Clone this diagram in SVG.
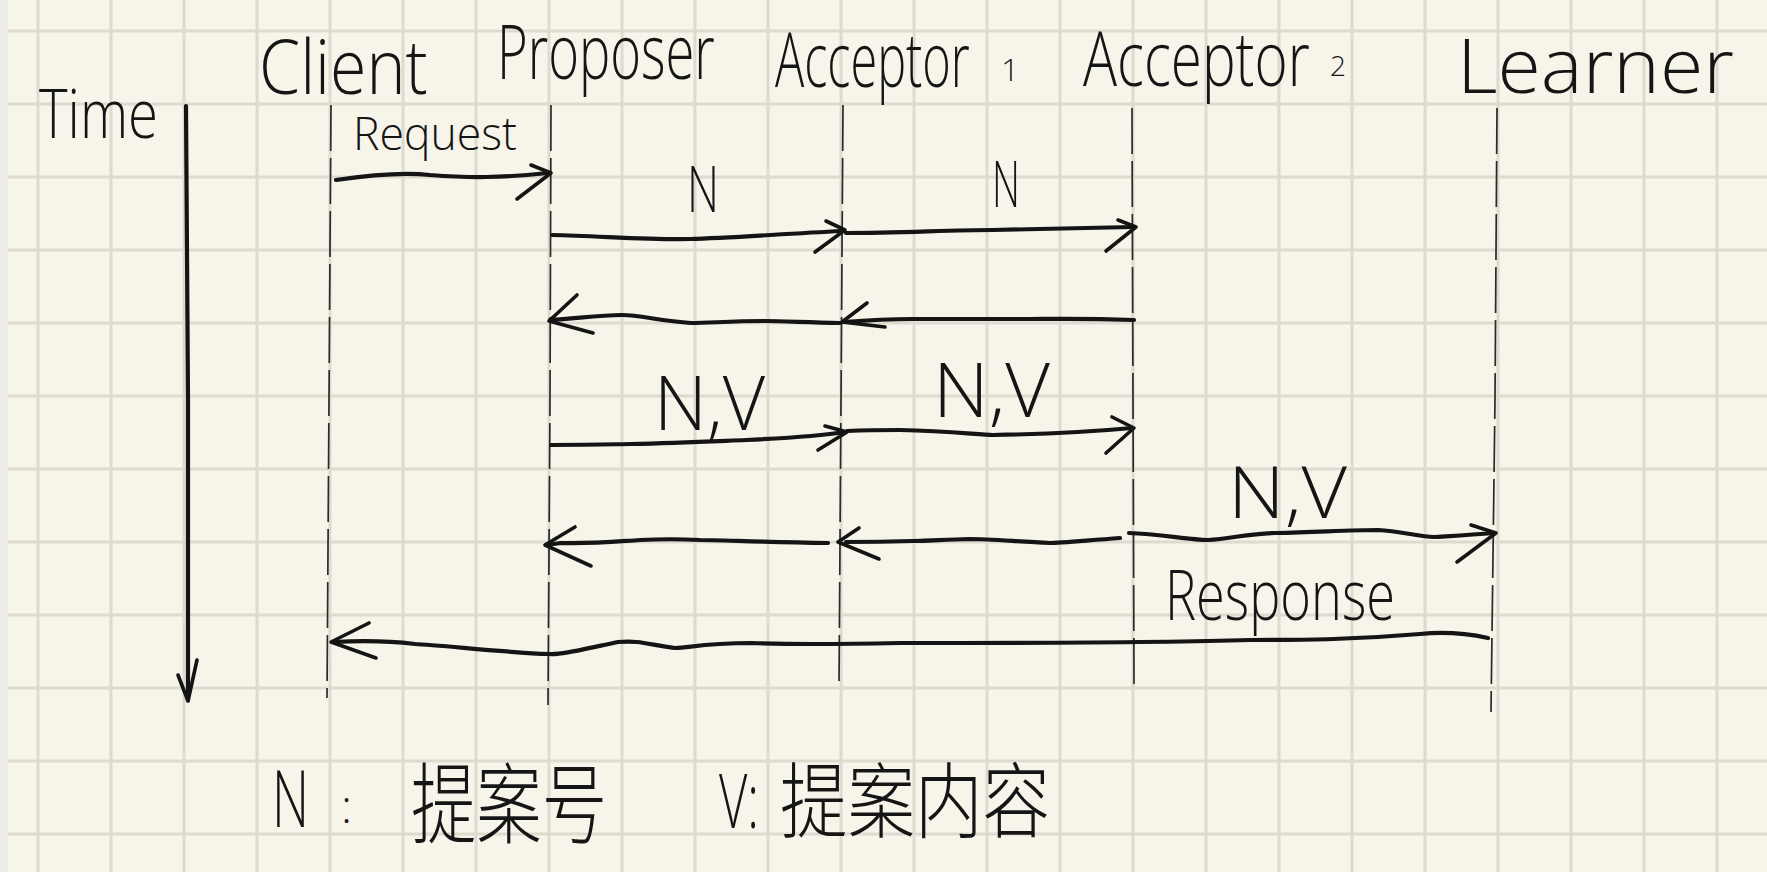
<svg xmlns="http://www.w3.org/2000/svg" width="1767" height="872" viewBox="0 0 1767 872">
<defs>
<style>
.bg{fill:#f7f5ea}
.grid{stroke:#dedacd;stroke-width:3;fill:none}
.life{stroke:#2a2a2a;stroke-width:1.7;fill:none;stroke-dasharray:46 7}
.ln{stroke:#141414;stroke-width:4.2;fill:none;stroke-linecap:round;stroke-linejoin:round}
.hd{stroke:#141414;stroke-width:3.6;fill:none;stroke-linecap:round;stroke-linejoin:round}
.t{font-family:"Open Sans","Liberation Sans",sans-serif;font-weight:300;fill:#151515}
.cjk{font-family:"Noto Sans CJK SC","Noto Sans CJK TC",sans-serif;fill:#151515;font-weight:300}
</style>
</defs>
<rect class="bg" x="0" y="0" width="1767" height="872"/>
<rect x="0" y="0" width="8" height="872" fill="#ececea"/>
<g id="grid">
<path class="grid" d="M38,0V872M111,0V872M184,0V872M257,0V872M330,0V872M403,0V872M476,0V872M549,0V872M622,0V872M695,0V872M768,0V872M841,0V872M914,0V872M987,0V872M1060,0V872M1133,0V872M1206,0V872M1279,0V872M1352,0V872M1425,0V872M1498,0V872M1571,0V872M1644,0V872M1717,0V872"/>
<path class="grid" d="M8,31H1767M8,104H1767M8,177H1767M8,250H1767M8,323H1767M8,396H1767M8,469H1767M8,542H1767M8,615H1767M8,688H1767M8,761H1767M8,834H1767"/>
</g>
<g id="time">
<text class="t" x="39" y="138" font-size="68" textLength="119" lengthAdjust="spacingAndGlyphs">Time</text>
<path class="ln" d="M186,106 L188,400 L188,700"/>
<path class="hd" d="M178,675 L188,701 L197,660"/>
</g>
<g id="client">
<text class="t" transform="translate(259,94) scale(0.8,1)" font-size="76" textLength="211" lengthAdjust="spacingAndGlyphs">Client</text>
<path class="life" d="M331,105 L329,400 L327,698"/>
</g>
<g id="proposer">
<text class="t" transform="translate(497,79) scale(0.66,1)" font-size="76" textLength="330" lengthAdjust="spacingAndGlyphs">Proposer</text>
<path class="life" d="M551,105 L550,400 L548,705"/>
</g>
<g id="acceptor1">
<text class="t" transform="translate(775,87) scale(0.64,1)" font-size="76">Acceptor</text>
<text class="t" x="1001" y="81" font-size="32">1</text>
<path class="life" d="M843,105 L841,400 L839,688"/>
</g>
<g id="acceptor2">
<text class="t" transform="translate(1083,86) scale(0.745,1)" font-size="76">Acceptor</text>
<text class="t" x="1330" y="76" font-size="28">2</text>
<path class="life" d="M1132,108 L1133,400 L1134,684"/>
</g>
<g id="learner">
<text class="t" x="1457" y="93" font-size="76" textLength="277" lengthAdjust="spacingAndGlyphs">Learner</text>
<path class="life" d="M1497,108 L1495,400 L1491,712"/>
</g>
<g id="connectors">
<path class="ln" d="M336,180 C370,175 400,172 430,175 C470,178 500,178 548,173"/>
<path class="hd" d="M531,165 L551,173 L517,199"/>
<text class="t" x="353" y="150" font-size="46" textLength="164" lengthAdjust="spacingAndGlyphs">Request</text>

<path class="ln" d="M552,235 C600,236 650,240 690,239 C730,238 780,234 842,231"/>
<path class="hd" d="M826,221 L845,230 L815,252"/>
<text class="t" x="687" y="212" font-size="64" textLength="32" lengthAdjust="spacingAndGlyphs">N</text>

<path class="ln" d="M846,233 C900,233 950,230 993,230 C1050,229 1100,228 1133,227"/>
<path class="hd" d="M1118,220 L1136,227 L1106,251"/>
<text class="t" x="992" y="207" font-size="64" textLength="28" lengthAdjust="spacingAndGlyphs">N</text>

<path class="ln" d="M1134,320 C1080,318 1050,319 1030,319 C980,319 930,319 912,319 C890,319 870,320 843,322"/>
<path class="hd" d="M867,303 L842,322 L885,327"/>
<path class="ln" d="M840,323 C800,322 780,321 765,321 C730,321 710,323 691,323 C660,321 640,315 622,315 C600,315 580,318 550,320"/>
<path class="hd" d="M577,295 L549,321 L593,333"/>

<path class="ln" d="M551,445 C600,445 620,444 631,444 C680,443 720,441 746,440 C790,438 820,436 845,432"/>
<path class="hd" d="M825,426 L847,432 L818,450"/>
<text class="t" x="654" y="430" font-size="76" textLength="111" lengthAdjust="spacingAndGlyphs">N,V</text>

<path class="ln" d="M847,431 C870,430 880,430 900,430 C950,431 980,435 993,435 C1050,434 1100,431 1132,428"/>
<path class="hd" d="M1112,417 L1134,428 L1106,453"/>
<text class="t" x="933" y="417" font-size="76" textLength="117" lengthAdjust="spacingAndGlyphs">N,V</text>

<path class="ln" d="M1120,538 C1080,541 1060,543 1050,543 C1010,541 990,539 969,539 C940,540 920,541 912,541 C880,542 860,542 846,542"/>
<path class="hd" d="M859,528 L838,542 L879,559"/>
<path class="ln" d="M828,543 C760,542 720,540 700,540 C680,539 660,539 640,540 C610,542 590,544 561,543 L546,545"/>
<path class="hd" d="M575,527 L545,545 L591,566"/>

<path class="ln" d="M1129,533 C1160,534 1190,540 1208,540 C1230,539 1250,533 1276,533 C1320,532 1350,530 1378,530 C1400,531 1420,537 1434,537 C1450,536 1470,535 1494,533"/>
<path class="hd" d="M1471,525 L1496,533 L1457,562"/>
<text class="t" x="1228" y="518" font-size="72" textLength="119" lengthAdjust="spacingAndGlyphs">N,V</text>

<path class="ln" d="M1488,638 C1460,632 1440,632 1420,634 C1350,640 1300,640 1250,640 C1150,643 1000,643 900,643 C850,644 800,645 752,643 C700,643 690,648 675,648 C650,645 640,640 618,642 C580,650 560,655 549,654 C510,653 440,645 415,644 C390,641 370,640 334,642"/>
<path class="hd" d="M369,623 L331,642 L376,658"/>
<text class="t" x="1165" y="620" font-size="70" textLength="230" lengthAdjust="spacingAndGlyphs">Response</text>
</g>
<g id="legend">
<text class="t" x="272" y="827" font-size="80" textLength="37" lengthAdjust="spacingAndGlyphs">N</text>
<text class="t" x="341" y="823" font-size="46">:</text>
<text class="cjk" x="411" y="836" font-size="88" textLength="196" lengthAdjust="spacingAndGlyphs">提案号</text>
<text class="t" x="719" y="828" font-size="76" textLength="40" lengthAdjust="spacingAndGlyphs">V:</text>
<text class="cjk" x="780" y="831" font-size="82" textLength="270" lengthAdjust="spacingAndGlyphs">提案内容</text>
</g>
</svg>
